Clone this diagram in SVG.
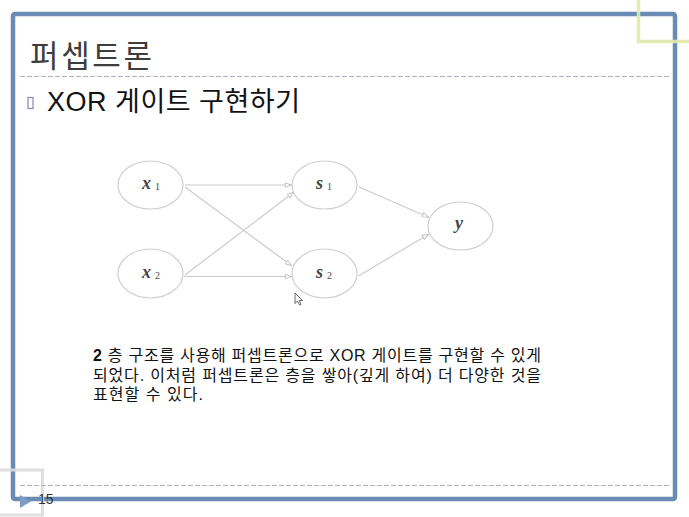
<svg xmlns="http://www.w3.org/2000/svg" width="689" height="517" viewBox="0 0 689 517">
  <style>
    .sans { font-family: "Liberation Sans", "Noto Sans CJK KR", sans-serif; }
    .node ellipse { fill: #ffffff; stroke: #cfcfcf; stroke-width: 1.2; }
    .lbl { font-family: "Liberation Serif", serif; fill: #444444; }
    .var { font-style: italic; font-weight: bold; font-size: 18px; }
    .sub { font-size: 10px; }
    .edge { stroke: #cccccc; stroke-width: 1.2; fill: none; marker-end: url(#arr); }
    .dash { stroke: #b0b0c4; stroke-width: 1.2; stroke-dasharray: 5 2; }
  </style>
  <defs>
    <marker id="arr" viewBox="0 0 10 8" refX="10" refY="4" markerWidth="8" markerHeight="6" markerUnits="userSpaceOnUse" orient="auto">
      <path d="M1,1 L9,4 L1,7 Z" fill="#ffffff" stroke="#bdbdbd" stroke-width="1.2"/>
    </marker>
  </defs>
  <rect width="689" height="517" fill="#ffffff"/>
  <!-- frame -->
  <rect x="13" y="14" width="662" height="485" rx="2" fill="none" stroke="#6a8cb4" stroke-width="4.5"/>
  <rect x="638.5" y="-4" width="60" height="45.5" fill="none" stroke="#e2e8ad" stroke-width="3.5" opacity="0.92"/>
  <rect x="-4" y="470" width="46.5" height="45" fill="none" stroke="#dcdcdc" stroke-width="3" opacity="0.92"/>
  <polygon points="20,495 31,501.5 20,508" fill="#7c9cc4"/>
  <text x="38" y="504" class="sans" font-size="14" fill="#333333">15</text>

  <!-- title -->
  <text x="30" y="67" class="sans" font-size="31" textLength="122" lengthAdjust="spacing" fill="#3d3d3d">퍼셉트론</text>
  <line x1="20" y1="76.5" x2="670" y2="76.5" class="dash"/>
  <line x1="20" y1="485.5" x2="670" y2="485.5" class="dash"/>

  <!-- bullet -->
  <rect x="28" y="97.5" width="5" height="11" fill="none" stroke="#8a84b4" stroke-width="1.2"/>
  <text x="47" y="111" class="sans" font-size="27" textLength="253" lengthAdjust="spacing" fill="#111111">XOR 게이트 구현하기</text>

  <!-- connectors -->
  <g id="connectors">
    <line class="edge" x1="185" y1="185" x2="292" y2="185"/>
    <line class="edge" x1="185" y1="187" x2="292" y2="266"/>
    <line class="edge" x1="185" y1="275" x2="294" y2="192"/>
    <line class="edge" x1="184" y1="276.5" x2="292" y2="276.5"/>
    <line class="edge" x1="359" y1="187" x2="429" y2="217.5"/>
    <line class="edge" x1="358.5" y1="276" x2="429" y2="234"/>
  </g>

  <!-- nodes -->
  <g id="x1" class="node">
    <ellipse cx="150.5" cy="185" rx="32.5" ry="24"/>
    <text class="lbl" x="142" y="189"><tspan class="var">x</tspan><tspan class="sub" dx="4" dy="1">1</tspan></text>
  </g>
  <g id="x2" class="node">
    <ellipse cx="150.5" cy="273.5" rx="32.5" ry="24.5"/>
    <text class="lbl" x="142" y="278"><tspan class="var">x</tspan><tspan class="sub" dx="4" dy="1">2</tspan></text>
  </g>
  <g id="s1" class="node">
    <ellipse cx="324.5" cy="185" rx="32.5" ry="24"/>
    <text class="lbl" x="316" y="189"><tspan class="var">s</tspan><tspan class="sub" dx="4" dy="1">1</tspan></text>
  </g>
  <g id="s2" class="node">
    <ellipse cx="324.5" cy="273.5" rx="32.5" ry="24.5"/>
    <text class="lbl" x="316" y="278"><tspan class="var">s</tspan><tspan class="sub" dx="4" dy="1">2</tspan></text>
  </g>
  <g id="y" class="node">
    <ellipse cx="460.5" cy="226" rx="32.5" ry="24"/>
    <text class="lbl" x="455" y="229"><tspan class="var">y</tspan></text>
  </g>

  <!-- mouse cursor -->
  <path d="M295,293 L295,303.5 L297.5,301 L299.5,305 L301,304.3 L299.2,300.5 L302.5,300.5 Z" fill="#ffffff" stroke="#444444" stroke-width="0.8"/>

  <!-- paragraph -->
  <g class="sans" font-size="16" fill="#111111">
    <text x="93" y="361" textLength="448" lengthAdjust="spacing"><tspan font-weight="bold">2</tspan> 층 구조를 사용해 퍼셉트론으로 XOR 게이트를 구현할 수 있게</text>
    <text x="93" y="381" textLength="448" lengthAdjust="spacing">되었다. 이처럼 퍼셉트론은 층을 쌓아(깊게 하여) 더 다양한 것을</text>
    <text x="93" y="400" textLength="110" lengthAdjust="spacing">표현할 수 있다.</text>
  </g>
</svg>
